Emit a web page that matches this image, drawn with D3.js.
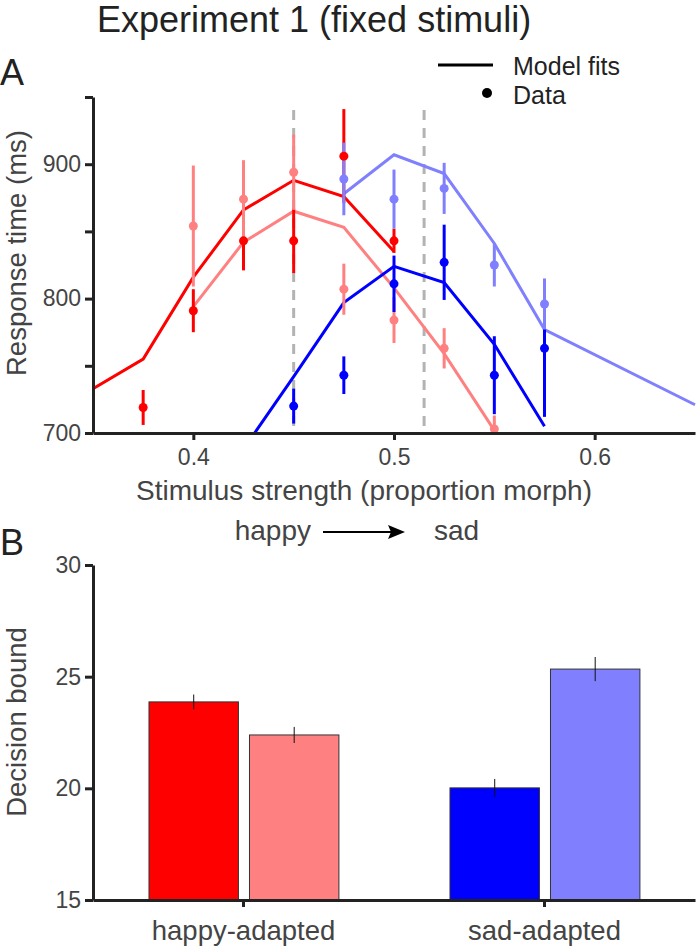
<!DOCTYPE html>
<html>
<head>
<meta charset="utf-8">
<script src="https://cdn.jsdelivr.net/npm/d3@7"></script>
<style>
  body { margin: 0; background: #fff; }
  svg { display: block; font-family: "Liberation Sans", Arial, Helvetica, sans-serif; }
  .axis path, .axis line { stroke: #222; }
  .axis text { fill: #444; }
</style>
</head>
<body>
<svg id="chart" width="696" height="950"></svg>
<script>
// ---- Panel A: model fits (lines) ----
const fitRedX = [0.35, 0.375, 0.4, 0.425, 0.45, 0.475, 0.5];
const fitRedY = [733, 755, 816, 866, 888, 876, 835];
const fitPinkX = [0.4, 0.425, 0.45, 0.475, 0.5, 0.525, 0.55];
const fitPinkY = [794, 842, 865, 853, 808, 759, 702];
const fitBlueX = [0.425, 0.45, 0.475, 0.5, 0.525, 0.55, 0.575];
const fitBlueY = [688, 742, 797, 824, 812, 766, 705];
const fitLightX = [0.475, 0.5, 0.525, 0.55, 0.575, 0.65];
const fitLightY = [878, 907, 893, 841, 777, 721];

// ---- Panel A: data (mean +/- error) ----
const dataRedX = [0.375, 0.4, 0.425, 0.45, 0.475, 0.5];
const dataRedY = [719, 791, 843, 843, 906, 843];
const dataRedErr = [13, 16, 22, 24, 35, 9];
const dataPinkX = [0.4, 0.425, 0.45, 0.475, 0.5, 0.525, 0.55];
const dataPinkY = [854, 874, 894, 807, 784, 763, 703];
const dataPinkErr = [45, 29, 28, 19, 17, 15, 10];
const dataBlueX = [0.45, 0.475, 0.5, 0.525, 0.55, 0.575];
const dataBlueY = [720, 743, 811, 827, 743, 763];
const dataBlueErr = [13, 14, 21, 28, 29, 51];
const dataLightX = [0.475, 0.5, 0.525, 0.55, 0.575];
const dataLightY = [889, 874, 882, 825, 796];
const dataLightErr = [27, 22, 19, 16, 19];

const boundaryX = [0.45, 0.515];
const rtTicks = [700, 750, 800, 850, 900, 950];
const stimTicks = [0.4, 0.5, 0.6];

// ---- Panel B: decision bounds ----
const groups = ["happy-adapted", "sad-adapted"];
const boundValues = [[23.87, 22.39], [20.02, 25.34]];
const boundErrors = [[0.33, 0.36], [0.40, 0.54]];
const boundTicks = [15, 20, 25, 30];

const colors = { red: "#ff0000", pink: "#ff8080", blue: "#0000ff", light: "#8080ff" };
const barColors = [[colors.red, colors.pink], [colors.blue, colors.light]];

const svg = d3.select("#chart");

// title and panel letters
svg.append("text").attr("x", 97).attr("y", 32)
    .attr("font-size", 36).attr("fill", "#222")
    .text("Experiment 1 (fixed stimuli)");
svg.append("text").attr("x", 0).attr("y", 85).attr("font-size", 36).attr("fill", "#222").text("A");
svg.append("text").attr("x", 0).attr("y", 555).attr("font-size", 36).attr("fill", "#222").text("B");

// ================= Panel A =================
var x = d3.scaleLinear().domain([0.35, 0.65]).range([93, 695]);
var y = d3.scaleLinear().domain([700, 950]).range([433, 97]);

svg.append("clipPath").attr("id", "clipA")
    .append("rect")
    .attr("x", x.range()[0]).attr("y", y.range()[1])
    .attr("width", x.range()[1] - x.range()[0] + 2)
    .attr("height", y.range()[0] - y.range()[1]);

var plotA = svg.append("g").attr("clip-path", "url(#clipA)");

// dashed category boundaries
plotA.selectAll(".boundary")
    .data(boundaryX)
    .enter()
    .append("line")
    .attr("x1", d => x(d)).attr("x2", d => x(d))
    .attr("y1", y(950) + 13).attr("y2", y(700))
    .attr("stroke", "#b3b3b3")
    .attr("stroke-width", 3)
    .attr("stroke-dasharray", "10,8");

var fits = [
    { xs: fitRedX, ys: fitRedY, color: colors.red },
    { xs: fitPinkX, ys: fitPinkY, color: colors.pink },
    { xs: fitBlueX, ys: fitBlueY, color: colors.blue },
    { xs: fitLightX, ys: fitLightY, color: colors.light }
];

var line = d3.line().x(d => x(d[0])).y(d => y(d[1]));

fits.forEach(function (f) {
    plotA.append("path")
        .datum(f.xs.map((v, i) => [v, f.ys[i]]))
        .attr("d", line)
        .attr("fill", "none")
        .attr("stroke", f.color)
        .attr("stroke-width", 3);
});

var points = [
    { xs: dataRedX, ys: dataRedY, err: dataRedErr, color: colors.red },
    { xs: dataPinkX, ys: dataPinkY, err: dataPinkErr, color: colors.pink },
    { xs: dataBlueX, ys: dataBlueY, err: dataBlueErr, color: colors.blue },
    { xs: dataLightX, ys: dataLightY, err: dataLightErr, color: colors.light }
];

// error bars first, then the dots on top
points.forEach(function (p) {
    plotA.selectAll(null)
        .data(p.xs.map((v, i) => ({ x: v, y: p.ys[i], e: p.err[i] })))
        .enter()
        .append("line")
        .attr("x1", d => x(d.x)).attr("x2", d => x(d.x))
        .attr("y1", d => y(d.y - d.e)).attr("y2", d => y(d.y + d.e))
        .attr("stroke", p.color)
        .attr("stroke-width", 3);
});
points.forEach(function (p) {
    svg.selectAll(null)
        .data(p.xs.map((v, i) => ({ x: v, y: p.ys[i] })))
        .enter()
        .append("circle")
        .attr("cx", d => x(d.x)).attr("cy", d => y(d.y))
        .attr("r", 4.5)
        .attr("fill", p.color);
});

// axes A
var yAxisA = svg.append("g").attr("class", "axis")
    .attr("transform", "translate(93,0)")
    .call(d3.axisLeft(y).tickValues(rtTicks)
        .tickFormat(d => d % 100 === 0 ? d : "")
        .tickSize(8).tickSizeOuter(0).tickPadding(4));

var xAxisA = svg.append("g").attr("class", "axis")
    .attr("transform", "translate(0,433)")
    .call(d3.axisBottom(x).tickValues(stimTicks)
        .tickFormat(d3.format(".1f"))
        .tickSize(7).tickSizeOuter(0).tickPadding(9));

[yAxisA, xAxisA].forEach(function (a) {
    a.select(".domain").attr("stroke-width", 3);
    a.selectAll(".tick line").attr("stroke-width", 3);
    a.selectAll("text").attr("font-size", 23).attr("font-family", null);
});

svg.append("text")
    .attr("transform", "translate(26,253) rotate(-90)")
    .attr("text-anchor", "middle")
    .attr("font-size", 27.5).attr("fill", "#444")
    .text("Response time (ms)");

svg.append("text")
    .attr("x", 364).attr("y", 500)
    .attr("text-anchor", "middle")
    .attr("font-size", 28).attr("fill", "#444")
    .text("Stimulus strength (proportion morph)");

// happy -> sad
svg.append("text").attr("x", 311).attr("y", 540).attr("text-anchor", "end")
    .attr("font-size", 28).attr("fill", "#444").text("happy");
svg.append("text").attr("x", 434).attr("y", 540)
    .attr("font-size", 28).attr("fill", "#444").text("sad");
svg.append("line").attr("x1", 323).attr("x2", 392).attr("y1", 532).attr("y2", 532)
    .attr("stroke", "#000").attr("stroke-width", 2);
svg.append("path").attr("d", "M405,532 L388,525 L391,532 L388,539 Z").attr("fill", "#000");

// legend
var legend = svg.append("g");
legend.append("line").attr("x1", 438).attr("x2", 493).attr("y1", 65).attr("y2", 65)
    .attr("stroke", "#000").attr("stroke-width", 3);
legend.append("circle").attr("cx", 487).attr("cy", 93).attr("r", 5).attr("fill", "#000");
legend.append("text").attr("x", 513).attr("y", 75).attr("font-size", 25).attr("fill", "#222").text("Model fits");
legend.append("text").attr("x", 513).attr("y", 104).attr("font-size", 25).attr("fill", "#222").text("Data");

// ================= Panel B =================
var xb = d3.scaleBand().domain(groups).range([93, 695]).padding(0);
var bw = xb.bandwidth();
var xSub = d3.scaleBand().domain([0, 1]).range([bw * 0.186, bw * 0.817]).paddingInner(0.11);
var yb = d3.scaleLinear().domain([15, 30]).range([900, 565]);

var barData = [];
groups.forEach(function (g, gi) {
    boundValues[gi].forEach(function (v, k) {
        barData.push({ group: g, k: k, value: v, err: boundErrors[gi][k], color: barColors[gi][k] });
    });
});

svg.selectAll(".bar")
    .data(barData)
    .enter()
    .append("rect")
    .attr("class", "bar")
    .attr("x", d => xb(d.group) + xSub(d.k))
    .attr("width", xSub.bandwidth())
    .attr("y", d => yb(d.value))
    .attr("height", d => yb(15) - yb(d.value))
    .attr("fill", d => d.color)
    .attr("stroke", "#333")
    .attr("stroke-width", 1);

svg.selectAll(".err")
    .data(barData)
    .enter()
    .append("line")
    .attr("class", "err")
    .attr("x1", d => xb(d.group) + xSub(d.k) + xSub.bandwidth() / 2)
    .attr("x2", d => xb(d.group) + xSub(d.k) + xSub.bandwidth() / 2)
    .attr("y1", d => yb(d.value - d.err))
    .attr("y2", d => yb(d.value + d.err))
    .attr("stroke", "#111")
    .attr("stroke-width", 1);

var yAxisB = svg.append("g").attr("class", "axis")
    .attr("transform", "translate(93,0)")
    .call(d3.axisLeft(yb).tickValues(boundTicks).tickSize(8).tickSizeOuter(0).tickPadding(4));

var xAxisB = svg.append("g").attr("class", "axis")
    .attr("transform", "translate(0,900)")
    .call(d3.axisBottom(xb).tickSize(7).tickSizeOuter(0).tickPadding(13));

[yAxisB, xAxisB].forEach(function (a) {
    a.select(".domain").attr("stroke-width", 3);
    a.selectAll(".tick line").attr("stroke-width", 3);
    a.selectAll("text").attr("font-family", null);
});
yAxisB.selectAll("text").attr("font-size", 23);
xAxisB.selectAll("text").attr("font-size", 27.5);

svg.append("text")
    .attr("transform", "translate(26,722) rotate(-90)")
    .attr("text-anchor", "middle")
    .attr("font-size", 27.5).attr("fill", "#444")
    .text("Decision bound");
</script>
</body>
</html>
